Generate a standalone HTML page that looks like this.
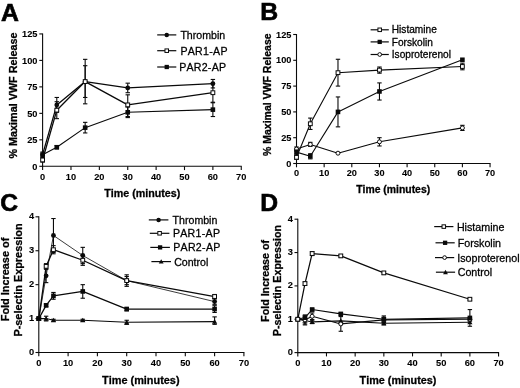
<!DOCTYPE html>
<html lang="en"><head><meta charset="utf-8"><title>Figure</title>
<style>html,body{margin:0;padding:0;background:#fff}body{width:520px;height:388px;overflow:hidden}svg{display:block;filter:blur(0.3px)}text{font-family:"Liberation Sans",Arial,Helvetica,sans-serif;fill:#000;font-kerning:none;stroke:#000;stroke-width:0.28px}.t{stroke-width:0.08px}</style>
</head><body>
<svg width="520" height="388" viewBox="0 0 520 388">
<rect width="520" height="388" fill="#fff"/>
<text x="1.00" y="20.50" font-size="24.8" font-weight="bold" text-anchor="start" style="stroke-width:0.65px">A</text>
<text x="260.30" y="20.20" font-size="24.8" font-weight="bold" text-anchor="start" style="stroke-width:0.65px">B</text>
<text x="0.20" y="210.90" font-size="24.6" font-weight="bold" text-anchor="start" style="stroke-width:0.65px">C</text>
<text x="260.20" y="210.90" font-size="24.7" font-weight="bold" text-anchor="start" style="stroke-width:0.65px">D</text>
<line x1="42.60" y1="33.43" x2="42.60" y2="166.80" stroke="#0a0a0a" stroke-width="1.1"/>
<line x1="42.10" y1="166.30" x2="241.76" y2="166.30" stroke="#0a0a0a" stroke-width="1.1"/>
<line x1="39.30" y1="166.30" x2="42.60" y2="166.30" stroke="#0a0a0a" stroke-width="1.1"/>
<text x="37.50" y="169.63" font-size="9.25" font-weight="bold" text-anchor="end" class="t">0</text>
<line x1="39.30" y1="139.83" x2="42.60" y2="139.83" stroke="#0a0a0a" stroke-width="1.1"/>
<text x="37.50" y="143.16" font-size="9.25" font-weight="bold" text-anchor="end" class="t">25</text>
<line x1="39.30" y1="113.35" x2="42.60" y2="113.35" stroke="#0a0a0a" stroke-width="1.1"/>
<text x="37.50" y="116.68" font-size="9.25" font-weight="bold" text-anchor="end" class="t">50</text>
<line x1="39.30" y1="86.88" x2="42.60" y2="86.88" stroke="#0a0a0a" stroke-width="1.1"/>
<text x="37.50" y="90.21" font-size="9.25" font-weight="bold" text-anchor="end" class="t">75</text>
<line x1="39.30" y1="60.40" x2="42.60" y2="60.40" stroke="#0a0a0a" stroke-width="1.1"/>
<text x="37.50" y="63.73" font-size="9.25" font-weight="bold" text-anchor="end" class="t">100</text>
<line x1="39.30" y1="33.93" x2="42.60" y2="33.93" stroke="#0a0a0a" stroke-width="1.1"/>
<text x="37.50" y="37.26" font-size="9.25" font-weight="bold" text-anchor="end" class="t">125</text>
<line x1="42.60" y1="166.30" x2="42.60" y2="170.10" stroke="#0a0a0a" stroke-width="1.1"/>
<text x="42.60" y="179.50" font-size="9.25" font-weight="bold" text-anchor="middle" class="t">0</text>
<line x1="70.98" y1="166.30" x2="70.98" y2="170.10" stroke="#0a0a0a" stroke-width="1.1"/>
<text x="70.98" y="179.50" font-size="9.25" font-weight="bold" text-anchor="middle" class="t">10</text>
<line x1="99.36" y1="166.30" x2="99.36" y2="170.10" stroke="#0a0a0a" stroke-width="1.1"/>
<text x="99.36" y="179.50" font-size="9.25" font-weight="bold" text-anchor="middle" class="t">20</text>
<line x1="127.74" y1="166.30" x2="127.74" y2="170.10" stroke="#0a0a0a" stroke-width="1.1"/>
<text x="127.74" y="179.50" font-size="9.25" font-weight="bold" text-anchor="middle" class="t">30</text>
<line x1="156.12" y1="166.30" x2="156.12" y2="170.10" stroke="#0a0a0a" stroke-width="1.1"/>
<text x="156.12" y="179.50" font-size="9.25" font-weight="bold" text-anchor="middle" class="t">40</text>
<line x1="184.50" y1="166.30" x2="184.50" y2="170.10" stroke="#0a0a0a" stroke-width="1.1"/>
<text x="184.50" y="179.50" font-size="9.25" font-weight="bold" text-anchor="middle" class="t">50</text>
<line x1="212.88" y1="166.30" x2="212.88" y2="170.10" stroke="#0a0a0a" stroke-width="1.1"/>
<text x="212.88" y="179.50" font-size="9.25" font-weight="bold" text-anchor="middle" class="t">60</text>
<line x1="241.26" y1="166.30" x2="241.26" y2="170.10" stroke="#0a0a0a" stroke-width="1.1"/>
<text x="241.26" y="179.50" font-size="9.25" font-weight="bold" text-anchor="middle" class="t">70</text>
<text x="16.60" y="95.50" font-size="10.8" font-weight="bold" text-anchor="middle" transform="rotate(-90 16.60 95.50)">% Maximal VWF Release</text>
<text x="142.30" y="196.80" font-size="10.7" font-weight="bold" text-anchor="middle">Time (minutes)</text>
<polyline points="42.60,154.65 56.79,147.24 85.17,127.65 127.74,112.29 212.88,109.64" fill="none" stroke="#0a0a0a" stroke-width="1.1" stroke-linejoin="round"/>
<line x1="42.60" y1="154.65" x2="42.60" y2="152.00" stroke="#0a0a0a" stroke-width="1.1"/>
<line x1="40.40" y1="152.00" x2="44.80" y2="152.00" stroke="#0a0a0a" stroke-width="1.1"/>
<line x1="42.60" y1="154.65" x2="42.60" y2="157.30" stroke="#0a0a0a" stroke-width="1.1"/>
<line x1="40.40" y1="157.30" x2="44.80" y2="157.30" stroke="#0a0a0a" stroke-width="1.1"/>
<line x1="56.79" y1="147.24" x2="56.79" y2="145.65" stroke="#0a0a0a" stroke-width="1.1"/>
<line x1="54.59" y1="145.65" x2="58.99" y2="145.65" stroke="#0a0a0a" stroke-width="1.1"/>
<line x1="56.79" y1="147.24" x2="56.79" y2="148.83" stroke="#0a0a0a" stroke-width="1.1"/>
<line x1="54.59" y1="148.83" x2="58.99" y2="148.83" stroke="#0a0a0a" stroke-width="1.1"/>
<line x1="85.17" y1="127.65" x2="85.17" y2="122.35" stroke="#0a0a0a" stroke-width="1.1"/>
<line x1="82.97" y1="122.35" x2="87.37" y2="122.35" stroke="#0a0a0a" stroke-width="1.1"/>
<line x1="85.17" y1="127.65" x2="85.17" y2="132.94" stroke="#0a0a0a" stroke-width="1.1"/>
<line x1="82.97" y1="132.94" x2="87.37" y2="132.94" stroke="#0a0a0a" stroke-width="1.1"/>
<line x1="127.74" y1="112.29" x2="127.74" y2="107.00" stroke="#0a0a0a" stroke-width="1.1"/>
<line x1="125.54" y1="107.00" x2="129.94" y2="107.00" stroke="#0a0a0a" stroke-width="1.1"/>
<line x1="127.74" y1="112.29" x2="127.74" y2="117.59" stroke="#0a0a0a" stroke-width="1.1"/>
<line x1="125.54" y1="117.59" x2="129.94" y2="117.59" stroke="#0a0a0a" stroke-width="1.1"/>
<line x1="212.88" y1="109.64" x2="212.88" y2="102.76" stroke="#0a0a0a" stroke-width="1.1"/>
<line x1="210.68" y1="102.76" x2="215.08" y2="102.76" stroke="#0a0a0a" stroke-width="1.1"/>
<line x1="212.88" y1="109.64" x2="212.88" y2="116.53" stroke="#0a0a0a" stroke-width="1.1"/>
<line x1="210.68" y1="116.53" x2="215.08" y2="116.53" stroke="#0a0a0a" stroke-width="1.1"/>
<rect x="40.30" y="152.35" width="4.60" height="4.60" fill="#0a0a0a"/>
<rect x="54.49" y="144.94" width="4.60" height="4.60" fill="#0a0a0a"/>
<rect x="82.87" y="125.35" width="4.60" height="4.60" fill="#0a0a0a"/>
<rect x="125.44" y="109.99" width="4.60" height="4.60" fill="#0a0a0a"/>
<rect x="210.58" y="107.34" width="4.60" height="4.60" fill="#0a0a0a"/>
<polyline points="42.60,154.65 56.79,104.88 85.17,81.58 127.74,87.93 212.88,83.70" fill="none" stroke="#0a0a0a" stroke-width="1.3" stroke-linejoin="round"/>
<line x1="56.79" y1="104.88" x2="56.79" y2="97.47" stroke="#0a0a0a" stroke-width="1.1"/>
<line x1="54.59" y1="97.47" x2="58.99" y2="97.47" stroke="#0a0a0a" stroke-width="1.1"/>
<line x1="56.79" y1="104.88" x2="56.79" y2="112.29" stroke="#0a0a0a" stroke-width="1.1"/>
<line x1="54.59" y1="112.29" x2="58.99" y2="112.29" stroke="#0a0a0a" stroke-width="1.1"/>
<line x1="85.17" y1="81.58" x2="85.17" y2="59.34" stroke="#0a0a0a" stroke-width="1.1"/>
<line x1="82.97" y1="59.34" x2="87.37" y2="59.34" stroke="#0a0a0a" stroke-width="1.1"/>
<line x1="85.17" y1="81.58" x2="85.17" y2="103.82" stroke="#0a0a0a" stroke-width="1.1"/>
<line x1="82.97" y1="103.82" x2="87.37" y2="103.82" stroke="#0a0a0a" stroke-width="1.1"/>
<line x1="127.74" y1="87.93" x2="127.74" y2="83.17" stroke="#0a0a0a" stroke-width="1.1"/>
<line x1="125.54" y1="83.17" x2="129.94" y2="83.17" stroke="#0a0a0a" stroke-width="1.1"/>
<line x1="127.74" y1="87.93" x2="127.74" y2="92.70" stroke="#0a0a0a" stroke-width="1.1"/>
<line x1="125.54" y1="92.70" x2="129.94" y2="92.70" stroke="#0a0a0a" stroke-width="1.1"/>
<line x1="212.88" y1="83.70" x2="212.88" y2="79.46" stroke="#0a0a0a" stroke-width="1.1"/>
<line x1="210.68" y1="79.46" x2="215.08" y2="79.46" stroke="#0a0a0a" stroke-width="1.1"/>
<line x1="212.88" y1="83.70" x2="212.88" y2="87.93" stroke="#0a0a0a" stroke-width="1.1"/>
<line x1="210.68" y1="87.93" x2="215.08" y2="87.93" stroke="#0a0a0a" stroke-width="1.1"/>
<circle cx="42.60" cy="154.65" r="2.40" fill="#0a0a0a"/>
<circle cx="56.79" cy="104.88" r="2.40" fill="#0a0a0a"/>
<circle cx="85.17" cy="81.58" r="2.40" fill="#0a0a0a"/>
<circle cx="127.74" cy="87.93" r="2.40" fill="#0a0a0a"/>
<circle cx="212.88" cy="83.70" r="2.40" fill="#0a0a0a"/>
<polyline points="42.60,159.95 56.79,110.17 85.17,81.58 127.74,104.88 212.88,92.70" fill="none" stroke="#0a0a0a" stroke-width="1.3" stroke-linejoin="round"/>
<line x1="42.60" y1="159.95" x2="42.60" y2="157.83" stroke="#0a0a0a" stroke-width="1.1"/>
<line x1="40.40" y1="157.83" x2="44.80" y2="157.83" stroke="#0a0a0a" stroke-width="1.1"/>
<line x1="42.60" y1="159.95" x2="42.60" y2="162.06" stroke="#0a0a0a" stroke-width="1.1"/>
<line x1="40.40" y1="162.06" x2="44.80" y2="162.06" stroke="#0a0a0a" stroke-width="1.1"/>
<line x1="56.79" y1="110.17" x2="56.79" y2="101.70" stroke="#0a0a0a" stroke-width="1.1"/>
<line x1="54.59" y1="101.70" x2="58.99" y2="101.70" stroke="#0a0a0a" stroke-width="1.1"/>
<line x1="56.79" y1="110.17" x2="56.79" y2="118.65" stroke="#0a0a0a" stroke-width="1.1"/>
<line x1="54.59" y1="118.65" x2="58.99" y2="118.65" stroke="#0a0a0a" stroke-width="1.1"/>
<line x1="85.17" y1="81.58" x2="85.17" y2="65.70" stroke="#0a0a0a" stroke-width="1.1"/>
<line x1="82.97" y1="65.70" x2="87.37" y2="65.70" stroke="#0a0a0a" stroke-width="1.1"/>
<line x1="85.17" y1="81.58" x2="85.17" y2="97.47" stroke="#0a0a0a" stroke-width="1.1"/>
<line x1="82.97" y1="97.47" x2="87.37" y2="97.47" stroke="#0a0a0a" stroke-width="1.1"/>
<line x1="127.74" y1="104.88" x2="127.74" y2="94.82" stroke="#0a0a0a" stroke-width="1.1"/>
<line x1="125.54" y1="94.82" x2="129.94" y2="94.82" stroke="#0a0a0a" stroke-width="1.1"/>
<line x1="127.74" y1="104.88" x2="127.74" y2="116.53" stroke="#0a0a0a" stroke-width="1.1"/>
<line x1="125.54" y1="116.53" x2="129.94" y2="116.53" stroke="#0a0a0a" stroke-width="1.1"/>
<line x1="212.88" y1="92.70" x2="212.88" y2="83.17" stroke="#0a0a0a" stroke-width="1.1"/>
<line x1="210.68" y1="83.17" x2="215.08" y2="83.17" stroke="#0a0a0a" stroke-width="1.1"/>
<line x1="212.88" y1="92.70" x2="212.88" y2="102.23" stroke="#0a0a0a" stroke-width="1.1"/>
<line x1="210.68" y1="102.23" x2="215.08" y2="102.23" stroke="#0a0a0a" stroke-width="1.1"/>
<rect x="40.70" y="158.05" width="3.80" height="3.80" fill="#fff" stroke="#0a0a0a" stroke-width="1"/>
<rect x="54.89" y="108.27" width="3.80" height="3.80" fill="#fff" stroke="#0a0a0a" stroke-width="1"/>
<rect x="83.27" y="79.68" width="3.80" height="3.80" fill="#fff" stroke="#0a0a0a" stroke-width="1"/>
<rect x="125.84" y="102.98" width="3.80" height="3.80" fill="#fff" stroke="#0a0a0a" stroke-width="1"/>
<rect x="210.98" y="90.80" width="3.80" height="3.80" fill="#fff" stroke="#0a0a0a" stroke-width="1"/>
<line x1="157.20" y1="34.90" x2="176.30" y2="34.90" stroke="#0a0a0a" stroke-width="1.2"/>
<circle cx="166.75" cy="34.90" r="2.23" fill="#0a0a0a"/>
<text x="180.40" y="38.70" font-size="10.6" text-anchor="start">Thrombin</text>
<line x1="157.20" y1="50.70" x2="176.30" y2="50.70" stroke="#0a0a0a" stroke-width="1.2"/>
<rect x="164.98" y="48.93" width="3.53" height="3.53" fill="#fff" stroke="#0a0a0a" stroke-width="1"/>
<text x="180.40" y="54.50" font-size="10.6" text-anchor="start" letter-spacing="0.3">PAR1-AP</text>
<line x1="157.20" y1="67.00" x2="176.30" y2="67.00" stroke="#0a0a0a" stroke-width="1.2"/>
<rect x="164.61" y="64.86" width="4.28" height="4.28" fill="#0a0a0a"/>
<text x="179.20" y="70.80" font-size="10.6" text-anchor="start" letter-spacing="0.25">PAR2-AP</text>
<line x1="296.50" y1="34.00" x2="296.50" y2="164.00" stroke="#0a0a0a" stroke-width="1.1"/>
<line x1="296.00" y1="163.50" x2="490.55" y2="163.50" stroke="#0a0a0a" stroke-width="1.1"/>
<line x1="293.20" y1="163.50" x2="296.50" y2="163.50" stroke="#0a0a0a" stroke-width="1.1"/>
<text x="291.40" y="166.61" font-size="9.2" font-weight="bold" text-anchor="end" class="t">0</text>
<line x1="293.20" y1="137.70" x2="296.50" y2="137.70" stroke="#0a0a0a" stroke-width="1.1"/>
<text x="291.40" y="140.81" font-size="9.2" font-weight="bold" text-anchor="end" class="t">25</text>
<line x1="293.20" y1="111.90" x2="296.50" y2="111.90" stroke="#0a0a0a" stroke-width="1.1"/>
<text x="291.40" y="115.01" font-size="9.2" font-weight="bold" text-anchor="end" class="t">50</text>
<line x1="293.20" y1="86.10" x2="296.50" y2="86.10" stroke="#0a0a0a" stroke-width="1.1"/>
<text x="291.40" y="89.21" font-size="9.2" font-weight="bold" text-anchor="end" class="t">75</text>
<line x1="293.20" y1="60.30" x2="296.50" y2="60.30" stroke="#0a0a0a" stroke-width="1.1"/>
<text x="291.40" y="63.41" font-size="9.2" font-weight="bold" text-anchor="end" class="t">100</text>
<line x1="293.20" y1="34.50" x2="296.50" y2="34.50" stroke="#0a0a0a" stroke-width="1.1"/>
<text x="291.40" y="37.61" font-size="9.2" font-weight="bold" text-anchor="end" class="t">125</text>
<line x1="296.50" y1="163.50" x2="296.50" y2="167.30" stroke="#0a0a0a" stroke-width="1.1"/>
<text x="296.50" y="176.00" font-size="9.2" font-weight="bold" text-anchor="middle" class="t">0</text>
<line x1="324.15" y1="163.50" x2="324.15" y2="167.30" stroke="#0a0a0a" stroke-width="1.1"/>
<text x="324.15" y="176.00" font-size="9.2" font-weight="bold" text-anchor="middle" class="t">10</text>
<line x1="351.80" y1="163.50" x2="351.80" y2="167.30" stroke="#0a0a0a" stroke-width="1.1"/>
<text x="351.80" y="176.00" font-size="9.2" font-weight="bold" text-anchor="middle" class="t">20</text>
<line x1="379.45" y1="163.50" x2="379.45" y2="167.30" stroke="#0a0a0a" stroke-width="1.1"/>
<text x="379.45" y="176.00" font-size="9.2" font-weight="bold" text-anchor="middle" class="t">30</text>
<line x1="407.10" y1="163.50" x2="407.10" y2="167.30" stroke="#0a0a0a" stroke-width="1.1"/>
<text x="407.10" y="176.00" font-size="9.2" font-weight="bold" text-anchor="middle" class="t">40</text>
<line x1="434.75" y1="163.50" x2="434.75" y2="167.30" stroke="#0a0a0a" stroke-width="1.1"/>
<text x="434.75" y="176.00" font-size="9.2" font-weight="bold" text-anchor="middle" class="t">50</text>
<line x1="462.40" y1="163.50" x2="462.40" y2="167.30" stroke="#0a0a0a" stroke-width="1.1"/>
<text x="462.40" y="176.00" font-size="9.2" font-weight="bold" text-anchor="middle" class="t">60</text>
<line x1="490.05" y1="163.50" x2="490.05" y2="167.30" stroke="#0a0a0a" stroke-width="1.1"/>
<text x="490.05" y="176.00" font-size="9.2" font-weight="bold" text-anchor="middle" class="t">70</text>
<text x="270.80" y="94.70" font-size="10.5" font-weight="bold" text-anchor="middle" transform="rotate(-90 270.80 94.70)">% Maximal VWF Release</text>
<text x="393.20" y="192.60" font-size="10.4" font-weight="bold" text-anchor="middle">Time (minutes)</text>
<polyline points="296.50,149.05 310.32,144.41 337.98,153.18 379.45,141.83 462.40,127.90" fill="none" stroke="#0a0a0a" stroke-width="1.1" stroke-linejoin="round"/>
<line x1="296.50" y1="149.05" x2="296.50" y2="146.99" stroke="#0a0a0a" stroke-width="1.1"/>
<line x1="294.30" y1="146.99" x2="298.70" y2="146.99" stroke="#0a0a0a" stroke-width="1.1"/>
<line x1="296.50" y1="149.05" x2="296.50" y2="151.12" stroke="#0a0a0a" stroke-width="1.1"/>
<line x1="294.30" y1="151.12" x2="298.70" y2="151.12" stroke="#0a0a0a" stroke-width="1.1"/>
<line x1="310.32" y1="144.41" x2="310.32" y2="142.34" stroke="#0a0a0a" stroke-width="1.1"/>
<line x1="308.12" y1="142.34" x2="312.52" y2="142.34" stroke="#0a0a0a" stroke-width="1.1"/>
<line x1="310.32" y1="144.41" x2="310.32" y2="146.47" stroke="#0a0a0a" stroke-width="1.1"/>
<line x1="308.12" y1="146.47" x2="312.52" y2="146.47" stroke="#0a0a0a" stroke-width="1.1"/>
<line x1="379.45" y1="141.83" x2="379.45" y2="137.70" stroke="#0a0a0a" stroke-width="1.1"/>
<line x1="377.25" y1="137.70" x2="381.65" y2="137.70" stroke="#0a0a0a" stroke-width="1.1"/>
<line x1="379.45" y1="141.83" x2="379.45" y2="145.96" stroke="#0a0a0a" stroke-width="1.1"/>
<line x1="377.25" y1="145.96" x2="381.65" y2="145.96" stroke="#0a0a0a" stroke-width="1.1"/>
<line x1="462.40" y1="127.90" x2="462.40" y2="125.32" stroke="#0a0a0a" stroke-width="1.1"/>
<line x1="460.20" y1="125.32" x2="464.60" y2="125.32" stroke="#0a0a0a" stroke-width="1.1"/>
<line x1="462.40" y1="127.90" x2="462.40" y2="130.48" stroke="#0a0a0a" stroke-width="1.1"/>
<line x1="460.20" y1="130.48" x2="464.60" y2="130.48" stroke="#0a0a0a" stroke-width="1.1"/>
<circle cx="296.50" cy="149.05" r="2.00" fill="#fff" stroke="#0a0a0a" stroke-width="1"/>
<circle cx="310.32" cy="144.41" r="2.00" fill="#fff" stroke="#0a0a0a" stroke-width="1"/>
<circle cx="337.98" cy="153.18" r="2.00" fill="#fff" stroke="#0a0a0a" stroke-width="1"/>
<circle cx="379.45" cy="141.83" r="2.00" fill="#fff" stroke="#0a0a0a" stroke-width="1"/>
<circle cx="462.40" cy="127.90" r="2.00" fill="#fff" stroke="#0a0a0a" stroke-width="1"/>
<polyline points="296.50,152.15 310.32,156.28 337.98,111.90 379.45,91.47 462.40,59.78" fill="none" stroke="#0a0a0a" stroke-width="1.1" stroke-linejoin="round"/>
<line x1="296.50" y1="152.15" x2="296.50" y2="150.08" stroke="#0a0a0a" stroke-width="1.1"/>
<line x1="294.30" y1="150.08" x2="298.70" y2="150.08" stroke="#0a0a0a" stroke-width="1.1"/>
<line x1="296.50" y1="152.15" x2="296.50" y2="154.21" stroke="#0a0a0a" stroke-width="1.1"/>
<line x1="294.30" y1="154.21" x2="298.70" y2="154.21" stroke="#0a0a0a" stroke-width="1.1"/>
<line x1="310.32" y1="156.28" x2="310.32" y2="153.70" stroke="#0a0a0a" stroke-width="1.1"/>
<line x1="308.12" y1="153.70" x2="312.52" y2="153.70" stroke="#0a0a0a" stroke-width="1.1"/>
<line x1="310.32" y1="156.28" x2="310.32" y2="158.86" stroke="#0a0a0a" stroke-width="1.1"/>
<line x1="308.12" y1="158.86" x2="312.52" y2="158.86" stroke="#0a0a0a" stroke-width="1.1"/>
<line x1="337.98" y1="111.90" x2="337.98" y2="96.94" stroke="#0a0a0a" stroke-width="1.1"/>
<line x1="335.78" y1="96.94" x2="340.18" y2="96.94" stroke="#0a0a0a" stroke-width="1.1"/>
<line x1="337.98" y1="111.90" x2="337.98" y2="126.86" stroke="#0a0a0a" stroke-width="1.1"/>
<line x1="335.78" y1="126.86" x2="340.18" y2="126.86" stroke="#0a0a0a" stroke-width="1.1"/>
<line x1="379.45" y1="91.47" x2="379.45" y2="82.90" stroke="#0a0a0a" stroke-width="1.1"/>
<line x1="377.25" y1="82.90" x2="381.65" y2="82.90" stroke="#0a0a0a" stroke-width="1.1"/>
<line x1="379.45" y1="91.47" x2="379.45" y2="100.03" stroke="#0a0a0a" stroke-width="1.1"/>
<line x1="377.25" y1="100.03" x2="381.65" y2="100.03" stroke="#0a0a0a" stroke-width="1.1"/>
<rect x="294.20" y="149.85" width="4.60" height="4.60" fill="#0a0a0a"/>
<rect x="308.02" y="153.98" width="4.60" height="4.60" fill="#0a0a0a"/>
<rect x="335.68" y="109.60" width="4.60" height="4.60" fill="#0a0a0a"/>
<rect x="377.15" y="89.17" width="4.60" height="4.60" fill="#0a0a0a"/>
<rect x="460.10" y="57.48" width="4.60" height="4.60" fill="#0a0a0a"/>
<polyline points="296.50,157.31 310.32,123.77 337.98,72.68 379.45,70.10 462.40,66.49" fill="none" stroke="#0a0a0a" stroke-width="1.1" stroke-linejoin="round"/>
<line x1="296.50" y1="157.31" x2="296.50" y2="155.24" stroke="#0a0a0a" stroke-width="1.1"/>
<line x1="294.30" y1="155.24" x2="298.70" y2="155.24" stroke="#0a0a0a" stroke-width="1.1"/>
<line x1="296.50" y1="157.31" x2="296.50" y2="159.37" stroke="#0a0a0a" stroke-width="1.1"/>
<line x1="294.30" y1="159.37" x2="298.70" y2="159.37" stroke="#0a0a0a" stroke-width="1.1"/>
<line x1="310.32" y1="123.77" x2="310.32" y2="118.09" stroke="#0a0a0a" stroke-width="1.1"/>
<line x1="308.12" y1="118.09" x2="312.52" y2="118.09" stroke="#0a0a0a" stroke-width="1.1"/>
<line x1="310.32" y1="123.77" x2="310.32" y2="129.44" stroke="#0a0a0a" stroke-width="1.1"/>
<line x1="308.12" y1="129.44" x2="312.52" y2="129.44" stroke="#0a0a0a" stroke-width="1.1"/>
<line x1="337.98" y1="72.68" x2="337.98" y2="59.27" stroke="#0a0a0a" stroke-width="1.1"/>
<line x1="335.78" y1="59.27" x2="340.18" y2="59.27" stroke="#0a0a0a" stroke-width="1.1"/>
<line x1="337.98" y1="72.68" x2="337.98" y2="86.10" stroke="#0a0a0a" stroke-width="1.1"/>
<line x1="335.78" y1="86.10" x2="340.18" y2="86.10" stroke="#0a0a0a" stroke-width="1.1"/>
<line x1="379.45" y1="70.10" x2="379.45" y2="67.01" stroke="#0a0a0a" stroke-width="1.1"/>
<line x1="377.25" y1="67.01" x2="381.65" y2="67.01" stroke="#0a0a0a" stroke-width="1.1"/>
<line x1="379.45" y1="70.10" x2="379.45" y2="73.20" stroke="#0a0a0a" stroke-width="1.1"/>
<line x1="377.25" y1="73.20" x2="381.65" y2="73.20" stroke="#0a0a0a" stroke-width="1.1"/>
<line x1="462.40" y1="66.49" x2="462.40" y2="63.19" stroke="#0a0a0a" stroke-width="1.1"/>
<line x1="460.20" y1="63.19" x2="464.60" y2="63.19" stroke="#0a0a0a" stroke-width="1.1"/>
<line x1="462.40" y1="66.49" x2="462.40" y2="69.79" stroke="#0a0a0a" stroke-width="1.1"/>
<line x1="460.20" y1="69.79" x2="464.60" y2="69.79" stroke="#0a0a0a" stroke-width="1.1"/>
<rect x="294.60" y="155.41" width="3.80" height="3.80" fill="#fff" stroke="#0a0a0a" stroke-width="1"/>
<rect x="308.43" y="121.87" width="3.80" height="3.80" fill="#fff" stroke="#0a0a0a" stroke-width="1"/>
<rect x="336.08" y="70.78" width="3.80" height="3.80" fill="#fff" stroke="#0a0a0a" stroke-width="1"/>
<rect x="377.55" y="68.20" width="3.80" height="3.80" fill="#fff" stroke="#0a0a0a" stroke-width="1"/>
<rect x="460.50" y="64.59" width="3.80" height="3.80" fill="#fff" stroke="#0a0a0a" stroke-width="1"/>
<line x1="370.60" y1="29.80" x2="388.80" y2="29.80" stroke="#0a0a0a" stroke-width="1.2"/>
<rect x="377.93" y="28.03" width="3.53" height="3.53" fill="#fff" stroke="#0a0a0a" stroke-width="1"/>
<text x="391.80" y="33.40" font-size="10.15" text-anchor="start">Histamine</text>
<line x1="370.60" y1="41.90" x2="388.80" y2="41.90" stroke="#0a0a0a" stroke-width="1.2"/>
<rect x="377.56" y="39.76" width="4.28" height="4.28" fill="#0a0a0a"/>
<text x="391.80" y="45.50" font-size="10.15" text-anchor="start">Forskolin</text>
<line x1="370.60" y1="54.50" x2="388.80" y2="54.50" stroke="#0a0a0a" stroke-width="1.2"/>
<circle cx="379.70" cy="54.50" r="1.86" fill="#fff" stroke="#0a0a0a" stroke-width="1"/>
<text x="391.80" y="58.10" font-size="10.15" text-anchor="start">Isoproterenol</text>
<line x1="38.80" y1="216.32" x2="38.80" y2="353.00" stroke="#0a0a0a" stroke-width="1.1"/>
<line x1="38.30" y1="352.50" x2="244.40" y2="352.50" stroke="#0a0a0a" stroke-width="1.1"/>
<line x1="35.50" y1="352.50" x2="38.80" y2="352.50" stroke="#0a0a0a" stroke-width="1.1"/>
<text x="34.20" y="354.55" font-size="9.3" font-weight="bold" text-anchor="end" class="t">0</text>
<line x1="35.50" y1="318.58" x2="38.80" y2="318.58" stroke="#0a0a0a" stroke-width="1.1"/>
<text x="34.20" y="320.63" font-size="9.3" font-weight="bold" text-anchor="end" class="t">1</text>
<line x1="35.50" y1="284.66" x2="38.80" y2="284.66" stroke="#0a0a0a" stroke-width="1.1"/>
<text x="34.20" y="286.71" font-size="9.3" font-weight="bold" text-anchor="end" class="t">2</text>
<line x1="35.50" y1="250.74" x2="38.80" y2="250.74" stroke="#0a0a0a" stroke-width="1.1"/>
<text x="34.20" y="252.79" font-size="9.3" font-weight="bold" text-anchor="end" class="t">3</text>
<line x1="35.50" y1="216.82" x2="38.80" y2="216.82" stroke="#0a0a0a" stroke-width="1.1"/>
<text x="34.20" y="218.87" font-size="9.3" font-weight="bold" text-anchor="end" class="t">4</text>
<line x1="38.80" y1="352.50" x2="38.80" y2="356.30" stroke="#0a0a0a" stroke-width="1.1"/>
<text x="38.80" y="366.30" font-size="9.3" font-weight="bold" text-anchor="middle" class="t">0</text>
<line x1="68.10" y1="352.50" x2="68.10" y2="356.30" stroke="#0a0a0a" stroke-width="1.1"/>
<text x="68.10" y="366.30" font-size="9.3" font-weight="bold" text-anchor="middle" class="t">10</text>
<line x1="97.40" y1="352.50" x2="97.40" y2="356.30" stroke="#0a0a0a" stroke-width="1.1"/>
<text x="97.40" y="366.30" font-size="9.3" font-weight="bold" text-anchor="middle" class="t">20</text>
<line x1="126.70" y1="352.50" x2="126.70" y2="356.30" stroke="#0a0a0a" stroke-width="1.1"/>
<text x="126.70" y="366.30" font-size="9.3" font-weight="bold" text-anchor="middle" class="t">30</text>
<line x1="156.00" y1="352.50" x2="156.00" y2="356.30" stroke="#0a0a0a" stroke-width="1.1"/>
<text x="156.00" y="366.30" font-size="9.3" font-weight="bold" text-anchor="middle" class="t">40</text>
<line x1="185.30" y1="352.50" x2="185.30" y2="356.30" stroke="#0a0a0a" stroke-width="1.1"/>
<text x="185.30" y="366.30" font-size="9.3" font-weight="bold" text-anchor="middle" class="t">50</text>
<line x1="214.60" y1="352.50" x2="214.60" y2="356.30" stroke="#0a0a0a" stroke-width="1.1"/>
<text x="214.60" y="366.30" font-size="9.3" font-weight="bold" text-anchor="middle" class="t">60</text>
<line x1="243.90" y1="352.50" x2="243.90" y2="356.30" stroke="#0a0a0a" stroke-width="1.1"/>
<text x="243.90" y="366.30" font-size="9.3" font-weight="bold" text-anchor="middle" class="t">70</text>
<text x="9.40" y="279.50" font-size="10.9" font-weight="bold" text-anchor="middle" transform="rotate(-90 9.40 279.50)">Fold Increase of</text>
<text x="22.40" y="280.00" font-size="10.9" font-weight="bold" text-anchor="middle" transform="rotate(-90 22.40 280.00)">P-selectin Expression</text>
<text x="140.80" y="383.70" font-size="10.9" font-weight="bold" text-anchor="middle">Time (minutes)</text>
<polyline points="38.80,318.58 46.12,318.58 53.45,320.28 82.75,320.28 126.70,322.31 214.60,321.63" fill="none" stroke="#0a0a0a" stroke-width="1.1" stroke-linejoin="round"/>
<line x1="46.12" y1="318.58" x2="46.12" y2="316.21" stroke="#0a0a0a" stroke-width="1.1"/>
<line x1="43.92" y1="316.21" x2="48.33" y2="316.21" stroke="#0a0a0a" stroke-width="1.1"/>
<line x1="46.12" y1="318.58" x2="46.12" y2="320.95" stroke="#0a0a0a" stroke-width="1.1"/>
<line x1="43.92" y1="320.95" x2="48.33" y2="320.95" stroke="#0a0a0a" stroke-width="1.1"/>
<line x1="53.45" y1="320.28" x2="53.45" y2="319.26" stroke="#0a0a0a" stroke-width="1.1"/>
<line x1="51.25" y1="319.26" x2="55.65" y2="319.26" stroke="#0a0a0a" stroke-width="1.1"/>
<line x1="53.45" y1="320.28" x2="53.45" y2="321.29" stroke="#0a0a0a" stroke-width="1.1"/>
<line x1="51.25" y1="321.29" x2="55.65" y2="321.29" stroke="#0a0a0a" stroke-width="1.1"/>
<line x1="82.75" y1="320.28" x2="82.75" y2="319.26" stroke="#0a0a0a" stroke-width="1.1"/>
<line x1="80.55" y1="319.26" x2="84.95" y2="319.26" stroke="#0a0a0a" stroke-width="1.1"/>
<line x1="82.75" y1="320.28" x2="82.75" y2="321.29" stroke="#0a0a0a" stroke-width="1.1"/>
<line x1="80.55" y1="321.29" x2="84.95" y2="321.29" stroke="#0a0a0a" stroke-width="1.1"/>
<line x1="126.70" y1="322.31" x2="126.70" y2="320.28" stroke="#0a0a0a" stroke-width="1.1"/>
<line x1="124.50" y1="320.28" x2="128.90" y2="320.28" stroke="#0a0a0a" stroke-width="1.1"/>
<line x1="126.70" y1="322.31" x2="126.70" y2="324.35" stroke="#0a0a0a" stroke-width="1.1"/>
<line x1="124.50" y1="324.35" x2="128.90" y2="324.35" stroke="#0a0a0a" stroke-width="1.1"/>
<line x1="214.60" y1="321.63" x2="214.60" y2="316.88" stroke="#0a0a0a" stroke-width="1.1"/>
<line x1="212.40" y1="316.88" x2="216.80" y2="316.88" stroke="#0a0a0a" stroke-width="1.1"/>
<line x1="214.60" y1="321.63" x2="214.60" y2="324.35" stroke="#0a0a0a" stroke-width="1.1"/>
<line x1="212.40" y1="324.35" x2="216.80" y2="324.35" stroke="#0a0a0a" stroke-width="1.1"/>
<polygon points="38.80,315.98 41.40,320.66 36.20,320.66" fill="#0a0a0a"/>
<polygon points="46.12,315.98 48.73,320.66 43.52,320.66" fill="#0a0a0a"/>
<polygon points="53.45,317.68 56.05,322.36 50.85,322.36" fill="#0a0a0a"/>
<polygon points="82.75,317.68 85.35,322.36 80.15,322.36" fill="#0a0a0a"/>
<polygon points="126.70,319.71 129.30,324.39 124.10,324.39" fill="#0a0a0a"/>
<polygon points="214.60,319.03 217.20,323.71 212.00,323.71" fill="#0a0a0a"/>
<polyline points="38.80,318.58 46.12,305.35 53.45,295.85 82.75,291.44 126.70,309.08 214.60,309.08" fill="none" stroke="#0a0a0a" stroke-width="1.25" stroke-linejoin="round"/>
<line x1="46.12" y1="305.35" x2="46.12" y2="303.99" stroke="#0a0a0a" stroke-width="1.1"/>
<line x1="43.92" y1="303.99" x2="48.33" y2="303.99" stroke="#0a0a0a" stroke-width="1.1"/>
<line x1="46.12" y1="305.35" x2="46.12" y2="306.71" stroke="#0a0a0a" stroke-width="1.1"/>
<line x1="43.92" y1="306.71" x2="48.33" y2="306.71" stroke="#0a0a0a" stroke-width="1.1"/>
<line x1="53.45" y1="295.85" x2="53.45" y2="292.46" stroke="#0a0a0a" stroke-width="1.1"/>
<line x1="51.25" y1="292.46" x2="55.65" y2="292.46" stroke="#0a0a0a" stroke-width="1.1"/>
<line x1="53.45" y1="295.85" x2="53.45" y2="299.25" stroke="#0a0a0a" stroke-width="1.1"/>
<line x1="51.25" y1="299.25" x2="55.65" y2="299.25" stroke="#0a0a0a" stroke-width="1.1"/>
<line x1="82.75" y1="291.44" x2="82.75" y2="284.66" stroke="#0a0a0a" stroke-width="1.1"/>
<line x1="80.55" y1="284.66" x2="84.95" y2="284.66" stroke="#0a0a0a" stroke-width="1.1"/>
<line x1="82.75" y1="291.44" x2="82.75" y2="298.23" stroke="#0a0a0a" stroke-width="1.1"/>
<line x1="80.55" y1="298.23" x2="84.95" y2="298.23" stroke="#0a0a0a" stroke-width="1.1"/>
<line x1="126.70" y1="309.08" x2="126.70" y2="307.39" stroke="#0a0a0a" stroke-width="1.1"/>
<line x1="124.50" y1="307.39" x2="128.90" y2="307.39" stroke="#0a0a0a" stroke-width="1.1"/>
<line x1="126.70" y1="309.08" x2="126.70" y2="310.78" stroke="#0a0a0a" stroke-width="1.1"/>
<line x1="124.50" y1="310.78" x2="128.90" y2="310.78" stroke="#0a0a0a" stroke-width="1.1"/>
<line x1="214.60" y1="309.08" x2="214.60" y2="305.69" stroke="#0a0a0a" stroke-width="1.1"/>
<line x1="212.40" y1="305.69" x2="216.80" y2="305.69" stroke="#0a0a0a" stroke-width="1.1"/>
<line x1="214.60" y1="309.08" x2="214.60" y2="312.47" stroke="#0a0a0a" stroke-width="1.1"/>
<line x1="212.40" y1="312.47" x2="216.80" y2="312.47" stroke="#0a0a0a" stroke-width="1.1"/>
<rect x="36.50" y="316.28" width="4.60" height="4.60" fill="#0a0a0a"/>
<rect x="43.83" y="303.05" width="4.60" height="4.60" fill="#0a0a0a"/>
<rect x="51.15" y="293.55" width="4.60" height="4.60" fill="#0a0a0a"/>
<rect x="80.45" y="289.14" width="4.60" height="4.60" fill="#0a0a0a"/>
<rect x="124.40" y="306.78" width="4.60" height="4.60" fill="#0a0a0a"/>
<rect x="212.30" y="306.78" width="4.60" height="4.60" fill="#0a0a0a"/>
<polyline points="38.80,318.58 46.12,275.84 53.45,235.48 82.75,255.49 126.70,280.59 214.60,301.62" fill="none" stroke="#0a0a0a" stroke-width="0.8" stroke-linejoin="round"/>
<line x1="46.12" y1="275.84" x2="46.12" y2="269.06" stroke="#0a0a0a" stroke-width="1.1"/>
<line x1="43.92" y1="269.06" x2="48.33" y2="269.06" stroke="#0a0a0a" stroke-width="1.1"/>
<line x1="46.12" y1="275.84" x2="46.12" y2="282.62" stroke="#0a0a0a" stroke-width="1.1"/>
<line x1="43.92" y1="282.62" x2="48.33" y2="282.62" stroke="#0a0a0a" stroke-width="1.1"/>
<line x1="53.45" y1="235.48" x2="53.45" y2="218.52" stroke="#0a0a0a" stroke-width="1.1"/>
<line x1="51.25" y1="218.52" x2="55.65" y2="218.52" stroke="#0a0a0a" stroke-width="1.1"/>
<line x1="53.45" y1="235.48" x2="53.45" y2="252.44" stroke="#0a0a0a" stroke-width="1.1"/>
<line x1="51.25" y1="252.44" x2="55.65" y2="252.44" stroke="#0a0a0a" stroke-width="1.1"/>
<line x1="82.75" y1="255.49" x2="82.75" y2="247.35" stroke="#0a0a0a" stroke-width="1.1"/>
<line x1="80.55" y1="247.35" x2="84.95" y2="247.35" stroke="#0a0a0a" stroke-width="1.1"/>
<line x1="82.75" y1="255.49" x2="82.75" y2="263.63" stroke="#0a0a0a" stroke-width="1.1"/>
<line x1="80.55" y1="263.63" x2="84.95" y2="263.63" stroke="#0a0a0a" stroke-width="1.1"/>
<line x1="126.70" y1="280.59" x2="126.70" y2="276.52" stroke="#0a0a0a" stroke-width="1.1"/>
<line x1="124.50" y1="276.52" x2="128.90" y2="276.52" stroke="#0a0a0a" stroke-width="1.1"/>
<line x1="126.70" y1="280.59" x2="126.70" y2="284.66" stroke="#0a0a0a" stroke-width="1.1"/>
<line x1="124.50" y1="284.66" x2="128.90" y2="284.66" stroke="#0a0a0a" stroke-width="1.1"/>
<line x1="214.60" y1="301.62" x2="214.60" y2="298.91" stroke="#0a0a0a" stroke-width="1.1"/>
<line x1="212.40" y1="298.91" x2="216.80" y2="298.91" stroke="#0a0a0a" stroke-width="1.1"/>
<line x1="214.60" y1="301.62" x2="214.60" y2="304.33" stroke="#0a0a0a" stroke-width="1.1"/>
<line x1="212.40" y1="304.33" x2="216.80" y2="304.33" stroke="#0a0a0a" stroke-width="1.1"/>
<circle cx="38.80" cy="318.58" r="2.40" fill="#0a0a0a"/>
<circle cx="46.12" cy="275.84" r="2.40" fill="#0a0a0a"/>
<circle cx="53.45" cy="235.48" r="2.40" fill="#0a0a0a"/>
<circle cx="82.75" cy="255.49" r="2.40" fill="#0a0a0a"/>
<circle cx="126.70" cy="280.59" r="2.40" fill="#0a0a0a"/>
<circle cx="214.60" cy="301.62" r="2.40" fill="#0a0a0a"/>
<polyline points="38.80,318.58 46.12,266.34 53.45,249.72 82.75,260.24 126.70,280.59 214.60,296.53" fill="none" stroke="#0a0a0a" stroke-width="1.3" stroke-linejoin="round"/>
<line x1="46.12" y1="266.34" x2="46.12" y2="263.63" stroke="#0a0a0a" stroke-width="1.1"/>
<line x1="43.92" y1="263.63" x2="48.33" y2="263.63" stroke="#0a0a0a" stroke-width="1.1"/>
<line x1="46.12" y1="266.34" x2="46.12" y2="269.06" stroke="#0a0a0a" stroke-width="1.1"/>
<line x1="43.92" y1="269.06" x2="48.33" y2="269.06" stroke="#0a0a0a" stroke-width="1.1"/>
<line x1="53.45" y1="249.72" x2="53.45" y2="245.65" stroke="#0a0a0a" stroke-width="1.1"/>
<line x1="51.25" y1="245.65" x2="55.65" y2="245.65" stroke="#0a0a0a" stroke-width="1.1"/>
<line x1="53.45" y1="249.72" x2="53.45" y2="253.79" stroke="#0a0a0a" stroke-width="1.1"/>
<line x1="51.25" y1="253.79" x2="55.65" y2="253.79" stroke="#0a0a0a" stroke-width="1.1"/>
<line x1="82.75" y1="260.24" x2="82.75" y2="255.15" stroke="#0a0a0a" stroke-width="1.1"/>
<line x1="80.55" y1="255.15" x2="84.95" y2="255.15" stroke="#0a0a0a" stroke-width="1.1"/>
<line x1="82.75" y1="260.24" x2="82.75" y2="265.33" stroke="#0a0a0a" stroke-width="1.1"/>
<line x1="80.55" y1="265.33" x2="84.95" y2="265.33" stroke="#0a0a0a" stroke-width="1.1"/>
<line x1="126.70" y1="280.59" x2="126.70" y2="274.82" stroke="#0a0a0a" stroke-width="1.1"/>
<line x1="124.50" y1="274.82" x2="128.90" y2="274.82" stroke="#0a0a0a" stroke-width="1.1"/>
<line x1="126.70" y1="280.59" x2="126.70" y2="286.36" stroke="#0a0a0a" stroke-width="1.1"/>
<line x1="124.50" y1="286.36" x2="128.90" y2="286.36" stroke="#0a0a0a" stroke-width="1.1"/>
<line x1="214.60" y1="296.53" x2="214.60" y2="294.50" stroke="#0a0a0a" stroke-width="1.1"/>
<line x1="212.40" y1="294.50" x2="216.80" y2="294.50" stroke="#0a0a0a" stroke-width="1.1"/>
<line x1="214.60" y1="296.53" x2="214.60" y2="298.57" stroke="#0a0a0a" stroke-width="1.1"/>
<line x1="212.40" y1="298.57" x2="216.80" y2="298.57" stroke="#0a0a0a" stroke-width="1.1"/>
<rect x="36.90" y="316.68" width="3.80" height="3.80" fill="#fff" stroke="#0a0a0a" stroke-width="1"/>
<rect x="44.23" y="264.44" width="3.80" height="3.80" fill="#fff" stroke="#0a0a0a" stroke-width="1"/>
<rect x="51.55" y="247.82" width="3.80" height="3.80" fill="#fff" stroke="#0a0a0a" stroke-width="1"/>
<rect x="80.85" y="258.34" width="3.80" height="3.80" fill="#fff" stroke="#0a0a0a" stroke-width="1"/>
<rect x="124.80" y="278.69" width="3.80" height="3.80" fill="#fff" stroke="#0a0a0a" stroke-width="1"/>
<rect x="212.70" y="294.63" width="3.80" height="3.80" fill="#fff" stroke="#0a0a0a" stroke-width="1"/>
<circle cx="38.80" cy="318.58" r="2.40" fill="#0a0a0a"/>
<line x1="148.80" y1="219.90" x2="168.40" y2="219.90" stroke="#0a0a0a" stroke-width="1.2"/>
<circle cx="158.60" cy="219.90" r="2.23" fill="#0a0a0a"/>
<text x="172.60" y="223.80" font-size="10.6" text-anchor="start">Thrombin</text>
<line x1="149.80" y1="233.30" x2="169.40" y2="233.30" stroke="#0a0a0a" stroke-width="1.2"/>
<rect x="157.83" y="231.53" width="3.53" height="3.53" fill="#fff" stroke="#0a0a0a" stroke-width="1"/>
<text x="172.90" y="237.20" font-size="10.6" text-anchor="start" letter-spacing="0.3">PAR1-AP</text>
<line x1="150.30" y1="247.40" x2="169.90" y2="247.40" stroke="#0a0a0a" stroke-width="1.2"/>
<rect x="157.96" y="245.26" width="4.28" height="4.28" fill="#0a0a0a"/>
<text x="173.20" y="251.30" font-size="10.6" text-anchor="start" letter-spacing="0.3">PAR2-AP</text>
<line x1="151.40" y1="261.60" x2="171.00" y2="261.60" stroke="#0a0a0a" stroke-width="1.2"/>
<polygon points="161.20,259.18 163.62,263.53 158.78,263.53" fill="#0a0a0a"/>
<text x="174.20" y="265.50" font-size="10.6" text-anchor="start">Control</text>
<line x1="297.80" y1="218.70" x2="297.80" y2="353.10" stroke="#0a0a0a" stroke-width="1.1"/>
<line x1="297.30" y1="352.60" x2="499.06" y2="352.60" stroke="#0a0a0a" stroke-width="1.1"/>
<line x1="294.50" y1="352.60" x2="297.80" y2="352.60" stroke="#0a0a0a" stroke-width="1.1"/>
<text x="293.00" y="355.15" font-size="9.3" font-weight="bold" text-anchor="end" class="t">0</text>
<line x1="294.50" y1="319.25" x2="297.80" y2="319.25" stroke="#0a0a0a" stroke-width="1.1"/>
<text x="293.00" y="321.80" font-size="9.3" font-weight="bold" text-anchor="end" class="t">1</text>
<line x1="294.50" y1="285.90" x2="297.80" y2="285.90" stroke="#0a0a0a" stroke-width="1.1"/>
<text x="293.00" y="288.45" font-size="9.3" font-weight="bold" text-anchor="end" class="t">2</text>
<line x1="294.50" y1="252.55" x2="297.80" y2="252.55" stroke="#0a0a0a" stroke-width="1.1"/>
<text x="293.00" y="255.10" font-size="9.3" font-weight="bold" text-anchor="end" class="t">3</text>
<line x1="294.50" y1="219.20" x2="297.80" y2="219.20" stroke="#0a0a0a" stroke-width="1.1"/>
<text x="293.00" y="221.75" font-size="9.3" font-weight="bold" text-anchor="end" class="t">4</text>
<line x1="297.80" y1="352.60" x2="297.80" y2="356.40" stroke="#0a0a0a" stroke-width="1.1"/>
<text x="297.80" y="365.90" font-size="9.3" font-weight="bold" text-anchor="middle" class="t">0</text>
<line x1="326.48" y1="352.60" x2="326.48" y2="356.40" stroke="#0a0a0a" stroke-width="1.1"/>
<text x="326.48" y="365.90" font-size="9.3" font-weight="bold" text-anchor="middle" class="t">10</text>
<line x1="355.16" y1="352.60" x2="355.16" y2="356.40" stroke="#0a0a0a" stroke-width="1.1"/>
<text x="355.16" y="365.90" font-size="9.3" font-weight="bold" text-anchor="middle" class="t">20</text>
<line x1="383.84" y1="352.60" x2="383.84" y2="356.40" stroke="#0a0a0a" stroke-width="1.1"/>
<text x="383.84" y="365.90" font-size="9.3" font-weight="bold" text-anchor="middle" class="t">30</text>
<line x1="412.52" y1="352.60" x2="412.52" y2="356.40" stroke="#0a0a0a" stroke-width="1.1"/>
<text x="412.52" y="365.90" font-size="9.3" font-weight="bold" text-anchor="middle" class="t">40</text>
<line x1="441.20" y1="352.60" x2="441.20" y2="356.40" stroke="#0a0a0a" stroke-width="1.1"/>
<text x="441.20" y="365.90" font-size="9.3" font-weight="bold" text-anchor="middle" class="t">50</text>
<line x1="469.88" y1="352.60" x2="469.88" y2="356.40" stroke="#0a0a0a" stroke-width="1.1"/>
<text x="469.88" y="365.90" font-size="9.3" font-weight="bold" text-anchor="middle" class="t">60</text>
<line x1="498.56" y1="352.60" x2="498.56" y2="356.40" stroke="#0a0a0a" stroke-width="1.1"/>
<text x="498.56" y="365.90" font-size="9.3" font-weight="bold" text-anchor="middle" class="t">70</text>
<text x="268.60" y="280.90" font-size="10.7" font-weight="bold" text-anchor="middle" transform="rotate(-90 268.60 280.90)">Fold Increase of</text>
<text x="281.40" y="280.60" font-size="10.7" font-weight="bold" text-anchor="middle" transform="rotate(-90 281.40 280.60)">P-selectin Expression</text>
<text x="398.00" y="383.80" font-size="10.8" font-weight="bold" text-anchor="middle">Time (minutes)</text>
<polyline points="297.80,319.25 304.97,320.58 312.14,321.92 340.82,320.92 383.84,323.25 469.88,322.25" fill="none" stroke="#0a0a0a" stroke-width="1.1" stroke-linejoin="round"/>
<line x1="304.97" y1="320.58" x2="304.97" y2="317.25" stroke="#0a0a0a" stroke-width="1.1"/>
<line x1="302.77" y1="317.25" x2="307.17" y2="317.25" stroke="#0a0a0a" stroke-width="1.1"/>
<line x1="304.97" y1="320.58" x2="304.97" y2="323.92" stroke="#0a0a0a" stroke-width="1.1"/>
<line x1="302.77" y1="323.92" x2="307.17" y2="323.92" stroke="#0a0a0a" stroke-width="1.1"/>
<line x1="312.14" y1="321.92" x2="312.14" y2="320.25" stroke="#0a0a0a" stroke-width="1.1"/>
<line x1="309.94" y1="320.25" x2="314.34" y2="320.25" stroke="#0a0a0a" stroke-width="1.1"/>
<line x1="312.14" y1="321.92" x2="312.14" y2="323.59" stroke="#0a0a0a" stroke-width="1.1"/>
<line x1="309.94" y1="323.59" x2="314.34" y2="323.59" stroke="#0a0a0a" stroke-width="1.1"/>
<line x1="383.84" y1="323.25" x2="383.84" y2="321.58" stroke="#0a0a0a" stroke-width="1.1"/>
<line x1="381.64" y1="321.58" x2="386.04" y2="321.58" stroke="#0a0a0a" stroke-width="1.1"/>
<line x1="383.84" y1="323.25" x2="383.84" y2="324.92" stroke="#0a0a0a" stroke-width="1.1"/>
<line x1="381.64" y1="324.92" x2="386.04" y2="324.92" stroke="#0a0a0a" stroke-width="1.1"/>
<line x1="469.88" y1="322.25" x2="469.88" y2="320.92" stroke="#0a0a0a" stroke-width="1.1"/>
<line x1="467.68" y1="320.92" x2="472.08" y2="320.92" stroke="#0a0a0a" stroke-width="1.1"/>
<line x1="469.88" y1="322.25" x2="469.88" y2="326.25" stroke="#0a0a0a" stroke-width="1.1"/>
<line x1="467.68" y1="326.25" x2="472.08" y2="326.25" stroke="#0a0a0a" stroke-width="1.1"/>
<polygon points="297.80,316.65 300.40,321.33 295.20,321.33" fill="#0a0a0a"/>
<polygon points="304.97,317.98 307.57,322.66 302.37,322.66" fill="#0a0a0a"/>
<polygon points="312.14,319.32 314.74,324.00 309.54,324.00" fill="#0a0a0a"/>
<polygon points="340.82,318.32 343.42,323.00 338.22,323.00" fill="#0a0a0a"/>
<polygon points="383.84,320.65 386.44,325.33 381.24,325.33" fill="#0a0a0a"/>
<polygon points="469.88,319.65 472.48,324.33 467.28,324.33" fill="#0a0a0a"/>
<polyline points="297.80,319.25 304.97,319.92 312.14,316.25 340.82,323.92 383.84,319.92 469.88,319.25" fill="none" stroke="#0a0a0a" stroke-width="1.1" stroke-linejoin="round"/>
<line x1="304.97" y1="319.92" x2="304.97" y2="314.91" stroke="#0a0a0a" stroke-width="1.1"/>
<line x1="302.77" y1="314.91" x2="307.17" y2="314.91" stroke="#0a0a0a" stroke-width="1.1"/>
<line x1="304.97" y1="319.92" x2="304.97" y2="324.92" stroke="#0a0a0a" stroke-width="1.1"/>
<line x1="302.77" y1="324.92" x2="307.17" y2="324.92" stroke="#0a0a0a" stroke-width="1.1"/>
<line x1="312.14" y1="316.25" x2="312.14" y2="312.91" stroke="#0a0a0a" stroke-width="1.1"/>
<line x1="309.94" y1="312.91" x2="314.34" y2="312.91" stroke="#0a0a0a" stroke-width="1.1"/>
<line x1="312.14" y1="316.25" x2="312.14" y2="319.58" stroke="#0a0a0a" stroke-width="1.1"/>
<line x1="309.94" y1="319.58" x2="314.34" y2="319.58" stroke="#0a0a0a" stroke-width="1.1"/>
<line x1="340.82" y1="323.92" x2="340.82" y2="316.58" stroke="#0a0a0a" stroke-width="1.1"/>
<line x1="338.62" y1="316.58" x2="343.02" y2="316.58" stroke="#0a0a0a" stroke-width="1.1"/>
<line x1="340.82" y1="323.92" x2="340.82" y2="331.26" stroke="#0a0a0a" stroke-width="1.1"/>
<line x1="338.62" y1="331.26" x2="343.02" y2="331.26" stroke="#0a0a0a" stroke-width="1.1"/>
<line x1="383.84" y1="319.92" x2="383.84" y2="317.25" stroke="#0a0a0a" stroke-width="1.1"/>
<line x1="381.64" y1="317.25" x2="386.04" y2="317.25" stroke="#0a0a0a" stroke-width="1.1"/>
<line x1="383.84" y1="319.92" x2="383.84" y2="322.59" stroke="#0a0a0a" stroke-width="1.1"/>
<line x1="381.64" y1="322.59" x2="386.04" y2="322.59" stroke="#0a0a0a" stroke-width="1.1"/>
<line x1="469.88" y1="319.25" x2="469.88" y2="317.58" stroke="#0a0a0a" stroke-width="1.1"/>
<line x1="467.68" y1="317.58" x2="472.08" y2="317.58" stroke="#0a0a0a" stroke-width="1.1"/>
<line x1="469.88" y1="319.25" x2="469.88" y2="320.92" stroke="#0a0a0a" stroke-width="1.1"/>
<line x1="467.68" y1="320.92" x2="472.08" y2="320.92" stroke="#0a0a0a" stroke-width="1.1"/>
<circle cx="297.80" cy="319.25" r="2.00" fill="#fff" stroke="#0a0a0a" stroke-width="1"/>
<circle cx="304.97" cy="319.92" r="2.00" fill="#fff" stroke="#0a0a0a" stroke-width="1"/>
<circle cx="312.14" cy="316.25" r="2.00" fill="#fff" stroke="#0a0a0a" stroke-width="1"/>
<circle cx="340.82" cy="323.92" r="2.00" fill="#fff" stroke="#0a0a0a" stroke-width="1"/>
<circle cx="383.84" cy="319.92" r="2.00" fill="#fff" stroke="#0a0a0a" stroke-width="1"/>
<circle cx="469.88" cy="319.25" r="2.00" fill="#fff" stroke="#0a0a0a" stroke-width="1"/>
<polyline points="297.80,319.25 304.97,317.58 312.14,309.58 340.82,313.91 383.84,319.25 469.88,317.92" fill="none" stroke="#0a0a0a" stroke-width="1.1" stroke-linejoin="round"/>
<line x1="304.97" y1="317.58" x2="304.97" y2="315.92" stroke="#0a0a0a" stroke-width="1.1"/>
<line x1="302.77" y1="315.92" x2="307.17" y2="315.92" stroke="#0a0a0a" stroke-width="1.1"/>
<line x1="304.97" y1="317.58" x2="304.97" y2="319.25" stroke="#0a0a0a" stroke-width="1.1"/>
<line x1="302.77" y1="319.25" x2="307.17" y2="319.25" stroke="#0a0a0a" stroke-width="1.1"/>
<line x1="312.14" y1="309.58" x2="312.14" y2="308.24" stroke="#0a0a0a" stroke-width="1.1"/>
<line x1="309.94" y1="308.24" x2="314.34" y2="308.24" stroke="#0a0a0a" stroke-width="1.1"/>
<line x1="312.14" y1="309.58" x2="312.14" y2="310.91" stroke="#0a0a0a" stroke-width="1.1"/>
<line x1="309.94" y1="310.91" x2="314.34" y2="310.91" stroke="#0a0a0a" stroke-width="1.1"/>
<line x1="340.82" y1="313.91" x2="340.82" y2="312.58" stroke="#0a0a0a" stroke-width="1.1"/>
<line x1="338.62" y1="312.58" x2="343.02" y2="312.58" stroke="#0a0a0a" stroke-width="1.1"/>
<line x1="340.82" y1="313.91" x2="340.82" y2="315.25" stroke="#0a0a0a" stroke-width="1.1"/>
<line x1="338.62" y1="315.25" x2="343.02" y2="315.25" stroke="#0a0a0a" stroke-width="1.1"/>
<line x1="383.84" y1="319.25" x2="383.84" y2="315.92" stroke="#0a0a0a" stroke-width="1.1"/>
<line x1="381.64" y1="315.92" x2="386.04" y2="315.92" stroke="#0a0a0a" stroke-width="1.1"/>
<line x1="383.84" y1="319.25" x2="383.84" y2="322.59" stroke="#0a0a0a" stroke-width="1.1"/>
<line x1="381.64" y1="322.59" x2="386.04" y2="322.59" stroke="#0a0a0a" stroke-width="1.1"/>
<line x1="469.88" y1="317.92" x2="469.88" y2="309.58" stroke="#0a0a0a" stroke-width="1.1"/>
<line x1="467.68" y1="309.58" x2="472.08" y2="309.58" stroke="#0a0a0a" stroke-width="1.1"/>
<line x1="469.88" y1="317.92" x2="469.88" y2="319.58" stroke="#0a0a0a" stroke-width="1.1"/>
<line x1="467.68" y1="319.58" x2="472.08" y2="319.58" stroke="#0a0a0a" stroke-width="1.1"/>
<rect x="295.50" y="316.95" width="4.60" height="4.60" fill="#0a0a0a"/>
<rect x="302.67" y="315.28" width="4.60" height="4.60" fill="#0a0a0a"/>
<rect x="309.84" y="307.28" width="4.60" height="4.60" fill="#0a0a0a"/>
<rect x="338.52" y="311.61" width="4.60" height="4.60" fill="#0a0a0a"/>
<rect x="381.54" y="316.95" width="4.60" height="4.60" fill="#0a0a0a"/>
<rect x="467.58" y="315.62" width="4.60" height="4.60" fill="#0a0a0a"/>
<polyline points="297.80,319.25 304.97,283.57 312.14,253.55 340.82,255.89 383.84,272.89 469.88,299.24" fill="none" stroke="#0a0a0a" stroke-width="1.25" stroke-linejoin="round"/>
<line x1="304.97" y1="283.57" x2="304.97" y2="281.90" stroke="#0a0a0a" stroke-width="1.1"/>
<line x1="302.77" y1="281.90" x2="307.17" y2="281.90" stroke="#0a0a0a" stroke-width="1.1"/>
<line x1="304.97" y1="283.57" x2="304.97" y2="285.23" stroke="#0a0a0a" stroke-width="1.1"/>
<line x1="302.77" y1="285.23" x2="307.17" y2="285.23" stroke="#0a0a0a" stroke-width="1.1"/>
<line x1="312.14" y1="253.55" x2="312.14" y2="251.55" stroke="#0a0a0a" stroke-width="1.1"/>
<line x1="309.94" y1="251.55" x2="314.34" y2="251.55" stroke="#0a0a0a" stroke-width="1.1"/>
<line x1="312.14" y1="253.55" x2="312.14" y2="255.55" stroke="#0a0a0a" stroke-width="1.1"/>
<line x1="309.94" y1="255.55" x2="314.34" y2="255.55" stroke="#0a0a0a" stroke-width="1.1"/>
<line x1="340.82" y1="255.89" x2="340.82" y2="254.55" stroke="#0a0a0a" stroke-width="1.1"/>
<line x1="338.62" y1="254.55" x2="343.02" y2="254.55" stroke="#0a0a0a" stroke-width="1.1"/>
<line x1="340.82" y1="255.89" x2="340.82" y2="257.22" stroke="#0a0a0a" stroke-width="1.1"/>
<line x1="338.62" y1="257.22" x2="343.02" y2="257.22" stroke="#0a0a0a" stroke-width="1.1"/>
<line x1="383.84" y1="272.89" x2="383.84" y2="271.56" stroke="#0a0a0a" stroke-width="1.1"/>
<line x1="381.64" y1="271.56" x2="386.04" y2="271.56" stroke="#0a0a0a" stroke-width="1.1"/>
<line x1="383.84" y1="272.89" x2="383.84" y2="274.23" stroke="#0a0a0a" stroke-width="1.1"/>
<line x1="381.64" y1="274.23" x2="386.04" y2="274.23" stroke="#0a0a0a" stroke-width="1.1"/>
<line x1="469.88" y1="299.24" x2="469.88" y2="298.24" stroke="#0a0a0a" stroke-width="1.1"/>
<line x1="467.68" y1="298.24" x2="472.08" y2="298.24" stroke="#0a0a0a" stroke-width="1.1"/>
<line x1="469.88" y1="299.24" x2="469.88" y2="300.24" stroke="#0a0a0a" stroke-width="1.1"/>
<line x1="467.68" y1="300.24" x2="472.08" y2="300.24" stroke="#0a0a0a" stroke-width="1.1"/>
<rect x="295.90" y="317.35" width="3.80" height="3.80" fill="#fff" stroke="#0a0a0a" stroke-width="1"/>
<rect x="303.07" y="281.67" width="3.80" height="3.80" fill="#fff" stroke="#0a0a0a" stroke-width="1"/>
<rect x="310.24" y="251.65" width="3.80" height="3.80" fill="#fff" stroke="#0a0a0a" stroke-width="1"/>
<rect x="338.92" y="253.99" width="3.80" height="3.80" fill="#fff" stroke="#0a0a0a" stroke-width="1"/>
<rect x="381.94" y="270.99" width="3.80" height="3.80" fill="#fff" stroke="#0a0a0a" stroke-width="1"/>
<rect x="467.98" y="297.34" width="3.80" height="3.80" fill="#fff" stroke="#0a0a0a" stroke-width="1"/>
<line x1="434.20" y1="226.60" x2="453.40" y2="226.60" stroke="#0a0a0a" stroke-width="1.2"/>
<rect x="442.03" y="224.83" width="3.53" height="3.53" fill="#fff" stroke="#0a0a0a" stroke-width="1"/>
<text x="456.90" y="230.50" font-size="10.7" text-anchor="start">Histamine</text>
<line x1="435.50" y1="242.80" x2="454.70" y2="242.80" stroke="#0a0a0a" stroke-width="1.2"/>
<rect x="442.96" y="240.66" width="4.28" height="4.28" fill="#0a0a0a"/>
<text x="457.70" y="246.70" font-size="10.7" text-anchor="start">Forskolin</text>
<line x1="435.00" y1="257.60" x2="454.20" y2="257.60" stroke="#0a0a0a" stroke-width="1.2"/>
<circle cx="444.60" cy="257.60" r="1.86" fill="#fff" stroke="#0a0a0a" stroke-width="1"/>
<text x="457.20" y="261.50" font-size="10.7" text-anchor="start">Isoproterenol</text>
<line x1="435.90" y1="272.20" x2="455.10" y2="272.20" stroke="#0a0a0a" stroke-width="1.2"/>
<polygon points="445.50,269.78 447.92,274.13 443.08,274.13" fill="#0a0a0a"/>
<text x="457.70" y="276.10" font-size="10.7" text-anchor="start">Control</text>
</svg></body></html>
